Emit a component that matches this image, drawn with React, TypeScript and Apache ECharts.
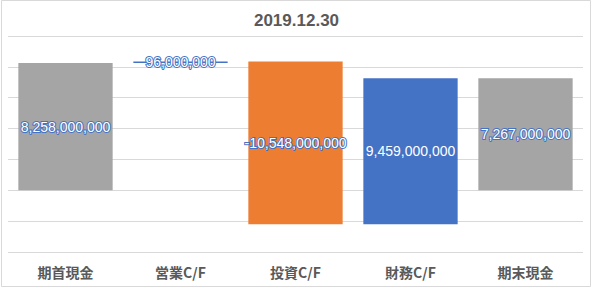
import React, { useEffect, useRef } from "react";
import * as echarts from "echarts";

const titleText = "2019.12.30";
const categories = ["期首現金", "営業C/F", "投資C/F", "財務C/F", "期末現金"];
const values = [8258000000, 96000000, -10548000000, 9459000000, 7267000000];
const isTotal = [true, false, false, false, true];
const colorTotal = "#a5a5a5";
const colorUp = "#4472c4";
const colorDown = "#ed7d31";

function fmt(v: number) {
  return v.toLocaleString("en-US");
}

export default function App() {
  const ref = useRef<HTMLDivElement>(null);
  useEffect(() => {
    if (!ref.current) return;
    const chart = echarts.init(ref.current, null, { renderer: "svg" });
    let running = 0;
    const rows: any[] = [];
    values.forEach((v, i) => {
      let lo: number, hi: number;
      if (isTotal[i]) {
        lo = Math.min(0, v);
        hi = Math.max(0, v);
        running = v;
      } else {
        const next = running + v;
        lo = Math.min(running, next);
        hi = Math.max(running, next);
        running = next;
      }
      const color = isTotal[i] ? colorTotal : v >= 0 ? colorUp : colorDown;
      rows.push([i, lo, hi, v, color]);
    });

    chart.setOption({
      animation: false,
      title: {
        text: titleText,
        left: "center",
        top: 7,
        textStyle: {
          fontFamily: "Liberation Sans, Arial, sans-serif",
          fontSize: 17,
          fontWeight: "bold",
          color: "#595959",
        },
      },
      graphic: [
        {
          type: "rect",
          shape: { x: 1.5, y: 0.5, width: 589, height: 286 },
          style: { fill: "none", stroke: "#d9d9d9", lineWidth: 1 },
          silent: true,
        },
      ],
      grid: { left: 8, right: 10, top: 36, bottom: 36 },
      xAxis: {
        type: "category",
        data: categories,
        axisLine: { show: false },
        axisTick: { show: false },
        axisLabel: {
          margin: 13,
          fontFamily: "Noto Sans CJK JP, sans-serif",
          fontSize: 14,
          fontWeight: "bold",
          color: "#595959",
        },
      },
      yAxis: {
        type: "value",
        min: -4000000000,
        max: 10000000000,
        interval: 2000000000,
        axisLabel: { show: false },
        axisLine: { show: false },
        axisTick: { show: false },
        splitLine: { lineStyle: { color: "#d9d9d9", width: 1 } },
      },
      series: [
        {
          type: "custom",
          data: rows,
          encode: { x: 0, y: [1, 2] },
          renderItem: (params: any, api: any) => {
            const idx = api.value(0);
            const lo = api.value(1);
            const hi = api.value(2);
            const v = api.value(3);
            const color = rows[params.dataIndex][4];
            const pTop = api.coord([idx, hi]);
            const pBot = api.coord([idx, lo]);
            const w = api.size([1, 0])[0] * 0.82;
            let h = pBot[1] - pTop[1];
            let y = pTop[1];
            if (h < 1.5) {
              const mid = (pBot[1] + pTop[1]) / 2;
              h = 1.5;
              y = mid - 0.75;
            }
            return {
              type: "group",
              children: [
                {
                  type: "rect",
                  shape: { x: pTop[0] - w / 2, y, width: w, height: h },
                  style: { fill: color },
                },
                {
                  type: "text",
                  x: pTop[0],
                  y: y + h / 2,
                  style: {
                    text: fmt(v),
                    fill: "#ffffff",
                    stroke: "#4472c4",
                    lineWidth: 2,
                    fontSize: 14,
                    fontFamily: "Liberation Sans, Arial, sans-serif",
                    align: "center",
                    verticalAlign: "middle",
                  },
                  z2: 10,
                },
              ],
            };
          },
        },
      ],
    });
    return () => chart.dispose();
  }, []);
  return (
    <div
      ref={ref}
      style={{ position: "fixed", left: 0, top: 0, width: 593, height: 288, background: "#fff" }}
    />
  );
}
